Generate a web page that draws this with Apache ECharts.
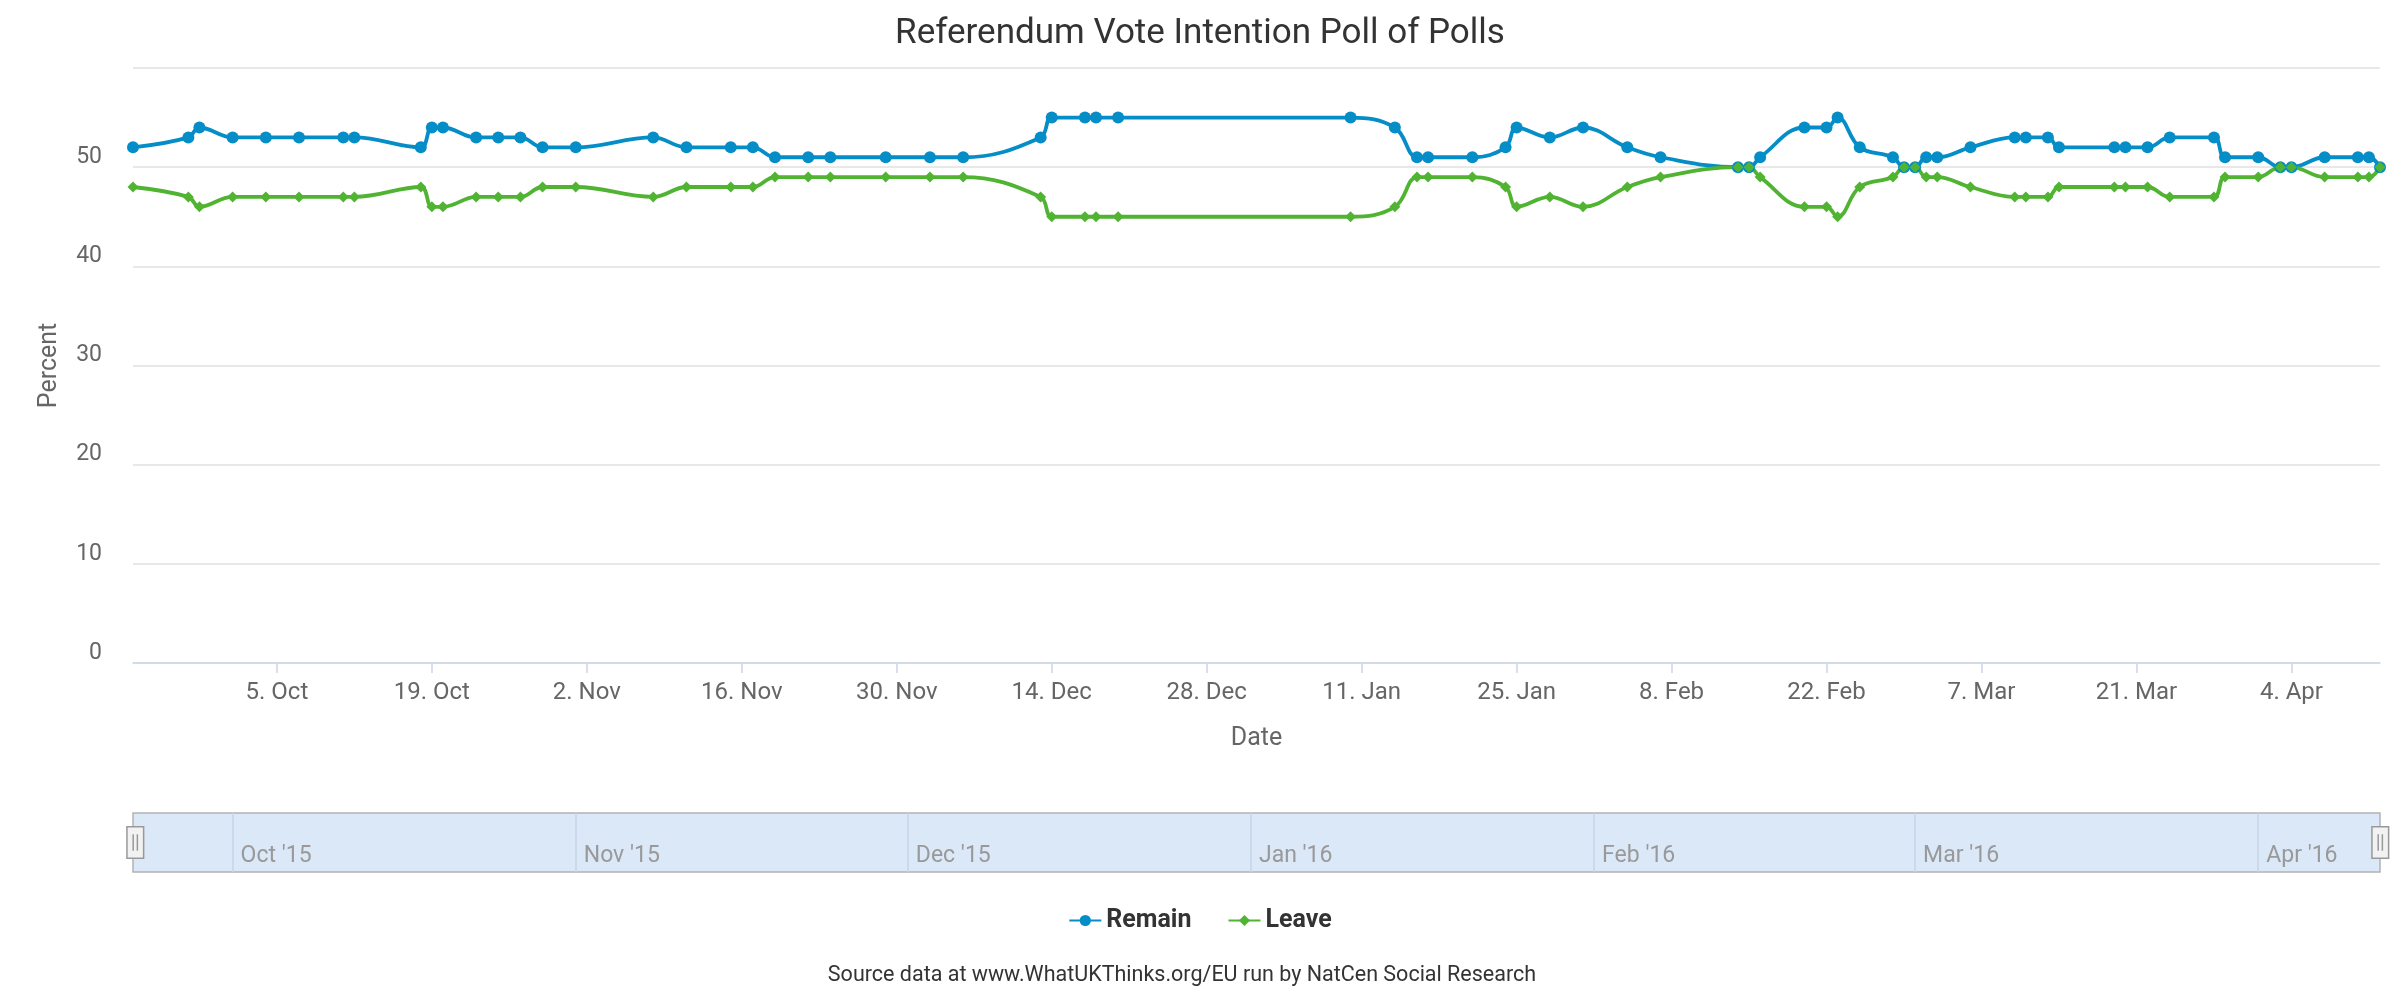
<!DOCTYPE html>
<html><head><meta charset="utf-8">
<script src="https://cdn.jsdelivr.net/npm/echarts@6/dist/echarts.min.js"></script>
<style>html,body{margin:0;padding:0;background:#fff}#c{width:2400px;height:1000px}</style>
</head><body><div id="c"></div>
<script>
const dates = ['2015-09-22','2015-09-27','2015-09-28',
'2015-10-01','2015-10-04','2015-10-07','2015-10-11','2015-10-12','2015-10-18','2015-10-19','2015-10-20','2015-10-23','2015-10-25','2015-10-27','2015-10-29',
'2015-11-01','2015-11-08','2015-11-11','2015-11-15','2015-11-17','2015-11-19','2015-11-22','2015-11-24','2015-11-29',
'2015-12-03','2015-12-06','2015-12-13','2015-12-14','2015-12-17','2015-12-18','2015-12-20',
'2016-01-10','2016-01-14','2016-01-16','2016-01-17','2016-01-21','2016-01-24','2016-01-25','2016-01-28','2016-01-31',
'2016-02-04','2016-02-07','2016-02-14','2016-02-15','2016-02-16','2016-02-20','2016-02-22','2016-02-23','2016-02-25','2016-02-28','2016-02-29',
'2016-03-01','2016-03-02','2016-03-03','2016-03-06','2016-03-10','2016-03-11','2016-03-13','2016-03-14','2016-03-19','2016-03-20','2016-03-22','2016-03-24','2016-03-28','2016-03-29',
'2016-04-01','2016-04-03','2016-04-04','2016-04-07','2016-04-10','2016-04-11','2016-04-12'];
const remain = [52,53,54,
53,53,53,53,53,52,54,54,53,53,53,52,
52,53,52,52,52,51,51,51,51,
51,51,53,55,55,55,55,
55,54,51,51,51,52,54,53,54,
52,51,50,50,51,54,54,55,52,51,50,
50,51,51,52,53,53,53,52,52,52,52,53,53,51,
51,50,50,51,51,51,50];
const leave = [48,47,46,
47,47,47,47,47,48,46,46,47,47,47,48,
48,47,48,48,48,49,49,49,49,
49,49,47,45,45,45,45,
45,46,49,49,49,48,46,47,46,
48,49,50,50,49,46,46,45,48,49,50,
50,49,49,48,47,47,47,48,48,48,48,47,47,49,
49,50,50,49,49,49,50];
const tickDates = ['2015-10-05','2015-10-19','2015-11-02','2015-11-16','2015-11-30','2015-12-14','2015-12-28','2016-01-11','2016-01-25','2016-02-08','2016-02-22','2016-03-07','2016-03-21','2016-04-04'];
const tickLabels = ['5. Oct','19. Oct','2. Nov','16. Nov','30. Nov','14. Dec','28. Dec','11. Jan','25. Jan','8. Feb','22. Feb','7. Mar','21. Mar','4. Apr'];
const navDates = ['2015-10-01','2015-11-01','2015-12-01','2016-01-01','2016-02-01','2016-03-01','2016-04-01'];
const navLabels = ["Oct '15","Nov '15","Dec '15","Jan '16","Feb '16","Mar '16","Apr '16"];
const yTicks = [0,10,20,30,40,50,60];
const axisStart = '2015-09-22', axisEnd = '2016-04-12';

function ts(s){const p=s.split('-').map(Number);return Date.UTC(p[0],p[1]-1,p[2]);}
const tickTs = tickDates.map(ts), navTs = navDates.map(ts);
const tickMap = {}; tickTs.forEach((t,i)=>tickMap[t]=tickLabels[i]);
const navMap = {}; navTs.forEach((t,i)=>navMap[t]=navLabels[i]);
const FF = 'Roboto';
const chart = echarts.init(document.getElementById('c'));
chart.setOption({
  animation:false,
  backgroundColor:'#fff',
  textStyle:{fontFamily:FF},
  title:[
    {text:'Referendum Vote Intention Poll of Polls',left:'center',top:12,
     textStyle:{fontFamily:FF,fontSize:35,fontWeight:'normal',color:'#333'}},
    {text:'Source data at www.WhatUKThinks.org/EU run by NatCen Social Research',left:1177,textAlign:'center',top:960,
     textStyle:{fontFamily:FF,fontSize:21.5,fontWeight:'normal',color:'#333'}}
  ],
  legend:{data:['Remain','Leave'],left:'center',top:903,itemWidth:32,itemHeight:14,itemGap:36,
    textStyle:{fontFamily:FF,fontSize:25,fontWeight:'bold',color:'#333'}},
  grid:[
    {left:133,right:20,top:68,bottom:337},
    {left:133,right:20,top:813,height:59,show:true,backgroundColor:'#dbe8f8',borderColor:'#b3b3b3',borderWidth:1.5}
  ],
  xAxis:[
    {type:'value',gridIndex:0,min:ts(axisStart),max:ts(axisEnd),
     name:'Date',nameLocation:'middle',nameGap:63,nameTextStyle:{fontFamily:FF,fontSize:25,color:'#666'},
     axisLine:{show:true,lineStyle:{color:'#ccd6eb',width:1.5}},
     axisTick:{show:true,length:10,customValues:tickTs,lineStyle:{color:'#ccd6eb',width:1.5}},
     axisLabel:{customValues:tickTs,formatter:v=>tickMap[v]||'',fontFamily:FF,fontSize:24,color:'#666',margin:18},
     splitLine:{show:false}},
    {type:'value',gridIndex:1,min:ts(axisStart),max:ts(axisEnd),
     axisLine:{show:false},
     axisTick:{show:true,inside:true,length:59,customValues:navTs,lineStyle:{color:'#c6d3e6',width:1.5}},
     axisLabel:{inside:true,customValues:navTs,formatter:v=>navMap[v]||'',align:'left',padding:[0,0,0,8],margin:4,
       fontFamily:FF,fontSize:23,color:'#999'},
     splitLine:{show:false}}
  ],
  yAxis:[
    {type:'value',gridIndex:0,min:yTicks[0],max:yTicks[yTicks.length-1],interval:10,
     name:'Percent',nameLocation:'middle',nameGap:71,nameTextStyle:{fontFamily:FF,fontSize:25,color:'#666'},
     axisLine:{show:false},axisTick:{show:false},
     axisLabel:{showMaxLabel:false,fontFamily:FF,fontSize:23,color:'#666',margin:31,verticalAlign:'bottom',lineHeight:20},
     splitLine:{show:true,lineStyle:{color:'#e0e0e0',width:1.5}}},
    {type:'value',gridIndex:1,min:0,max:1,show:false}
  ],
  dataZoom:[{type:'slider',xAxisIndex:0,left:133,right:20,top:813,height:59,start:0,end:100,filterMode:'none',
    backgroundColor:'rgba(0,0,0,0)',fillerColor:'rgba(0,0,0,0)',borderColor:'rgba(0,0,0,0)',
    showDetail:false,showDataShadow:false,brushSelect:false,moveHandleSize:0,realtime:false,
    handleIcon:'path://M-4.5,0.5L3.5,0.5L3.5,15.5L-4.5,15.5Z M-1.5,4L-1.5,12 M0.5,4L0.5,12',
    handleSize:'53%',handleStyle:{color:'#f2f2f2',borderColor:'#999999',borderWidth:1.5},
    emphasis:{handleStyle:{color:'#f2f2f2',borderColor:'#999999'}}}],
  series:[
    {name:'Remain',type:'line',xAxisIndex:0,yAxisIndex:0,smooth:0.4,symbol:'circle',symbolSize:12,
     color:'#058DC7',lineStyle:{width:3.8,color:'#058DC7'},itemStyle:{color:'#058DC7'},
     data:dates.map((d,i)=>[ts(d),remain[i]])},
    {name:'Leave',type:'line',xAxisIndex:0,yAxisIndex:0,smooth:0.4,symbol:'diamond',symbolSize:11,
     color:'#50B432',lineStyle:{width:3.8,color:'#50B432'},itemStyle:{color:'#50B432'},
     data:dates.map((d,i)=>[ts(d),leave[i]])}
  ]
});
</script></body></html>
